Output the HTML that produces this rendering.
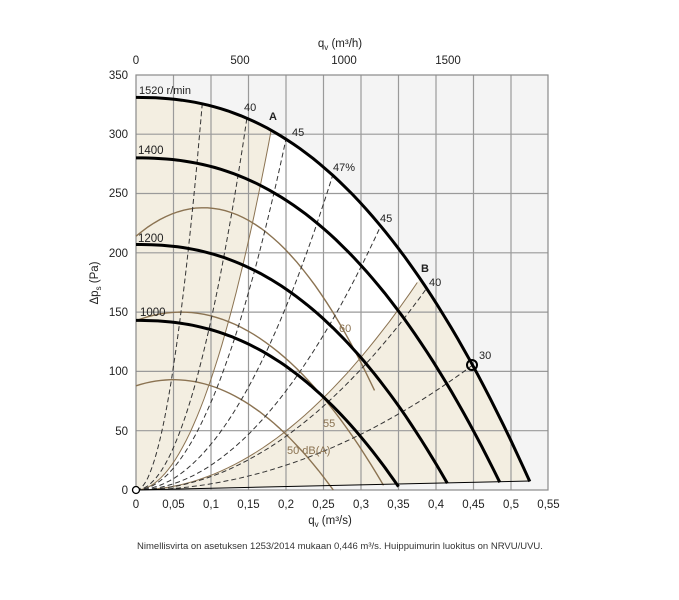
<!DOCTYPE html>
<html><head><meta charset="utf-8"><style>
body{margin:0;background:#fff;width:679px;height:600px;overflow:hidden}
svg{display:block}
text{font-family:"Liberation Sans",sans-serif;}
</style></head><body>
<svg id="s" width="679" height="600" viewBox="0 0 679 600">
<defs><clipPath id="env"><path id="envp" d=""/></clipPath></defs>
<rect x="136" y="75" width="412" height="415" fill="#f4f4f4"/>
<path id="envfill" fill="#fff" d=""/>
<g clip-path="url(#env)">
<path id="shA" fill="#f3eee1" d=""/>
<path id="shB" fill="#f3eee1" d=""/>
</g>
<g id="grid" stroke="#9a9a9a" stroke-width="1.2"></g>
<rect x="136" y="75" width="412" height="415" fill="none" stroke="#8a8a8a" stroke-width="1.2"/>
<g id="brown" fill="none" stroke="#8b7352" stroke-width="1.4"></g>
<g clip-path="url(#env)"><g id="brown2" fill="none" stroke="#8b7352" stroke-width="1"></g>
<g id="dash" fill="none" stroke="#333" stroke-width="1" stroke-dasharray="5,3"></g></g>
<path d="M136,490 L530,481" stroke="#000" stroke-width="1"/>
<g id="fan" fill="none" stroke="#000" stroke-width="3"></g>
<circle cx="472" cy="365" r="5" fill="none" stroke="#000" stroke-width="2"/>
<circle cx="136" cy="490" r="3.5" fill="#fff" stroke="#000" stroke-width="1.3"/>
<g font-size="11.5" fill="#222">
<text x="136" y="64" text-anchor="middle">0</text>
<text x="240" y="64" text-anchor="middle">500</text>
<text x="344" y="64" text-anchor="middle">1000</text>
<text x="448" y="64" text-anchor="middle">1500</text>
<text x="340" y="47" text-anchor="middle">q<tspan font-size="8" dy="3">v</tspan><tspan dy="-3"> (m³/h)</tspan></text>
<g text-anchor="end">
<text x="128" y="79">350</text><text x="128" y="138">300</text><text x="128" y="197">250</text><text x="128" y="257">200</text><text x="128" y="316">150</text><text x="128" y="375">100</text><text x="128" y="435">50</text><text x="128" y="494">0</text>
</g>
<g id="xt" text-anchor="middle"></g>
<text x="330" y="524" text-anchor="middle">q<tspan font-size="8" dy="3">v</tspan><tspan dy="-3"> (m³/s)</tspan></text>
<text transform="translate(98,283) rotate(-90)" text-anchor="middle">Δp<tspan font-size="8" dy="3">s</tspan><tspan dy="-3"> (Pa)</tspan></text>
<text x="139" y="94" font-size="11">1520 r/min</text>
<text x="138" y="154">1400</text>
<text x="138" y="242">1200</text>
<text x="140" y="316">1000</text>
<text x="244" y="111" font-size="11">40</text>
<text x="269" y="120" font-size="11" font-weight="bold">A</text>
<text x="292" y="136" font-size="11">45</text>
<text x="333" y="171" font-size="11">47%</text>
<text x="380" y="222" font-size="11">45</text>
<text x="421" y="272" font-size="11" font-weight="bold">B</text>
<text x="429" y="286" font-size="11">40</text>
<text x="479" y="359" font-size="11">30</text>
<g fill="#8b7352" font-size="11"><text x="339" y="332">60</text><text x="323" y="427">55</text><text x="287" y="454">50 dB(A)</text></g>
<text x="340" y="549" text-anchor="middle" font-size="9.5" fill="#333">Nimellisvirta on asetuksen 1253/2014 mukaan 0,446 m³/s. Huippuimurin luokitus on NRVU/UVU.</text>
</g>
</svg>
<script>
var X=q=>136+q*750, Y=p=>490-p*1.186;
function fan(p0,qm,qe){var s=[];for(var i=0;i<=60;i++){var q=qe*i/60;var p=p0*(1-Math.pow(q/qm,2.3));s.push([X(q),Y(p)]);}return s;}
function pts(a){return a.map((v,i)=>(i?'L':'M')+v[0].toFixed(1)+','+v[1].toFixed(1)).join(' ');}
var env=fan(331,0.53,0.525);
var ep=pts(env)+' L'+X(0.525)+','+Y(8)+' L136,490 Z';
document.getElementById('envp').setAttribute('d',ep);
document.getElementById('envfill').setAttribute('d',ep);
function par(c,qe){var s=[];for(var i=0;i<=40;i++){var q=qe*i/40;s.push([X(q),Y(c*q*q)]);}return s;}
var A=par(9340,Math.sqrt(340/9340));
document.getElementById('shA').setAttribute('d',pts(A)+' L136,'+Y(340)+' Z');
var B=par(1244,Math.sqrt(340/1244));
document.getElementById('shB').setAttribute('d',pts(B)+' L560,'+Y(340)+' L560,492 L136,492 Z');
var g=document.getElementById('grid'),h='';
for(var i=1;i<11;i++){var x=X(i*0.05);h+='<line x1="'+x+'" y1="75" x2="'+x+'" y2="490"/>';}
for(var j=1;j<7;j++){var y=Y(j*50);h+='<line x1="136" y1="'+y+'" x2="548" y2="'+y+'"/>';}
g.innerHTML=h;
var xt='',lab=['0','0,05','0,1','0,15','0,2','0,25','0,3','0,35','0,4','0,45','0,5','0,55'];
for(var i=0;i<12;i++)xt+='<text x="'+X(i*0.05)+'" y="508">'+lab[i]+'</text>';
document.getElementById('xt').innerHTML=xt;
var f='';
f+='<path d="'+pts(env)+'"/>';
f+='<path d="'+pts(fan(280,0.49,0.485))+'"/>';
f+='<path d="'+pts(fan(207,0.42,0.415))+'"/>';
f+='<path d="'+pts(fan(143,0.353,0.35))+'"/>';
document.getElementById('fan').innerHTML=f;
function sp(pm,qc,k,qe){var s=[];for(var i=0;i<=40;i++){var q=qe*i/40;s.push([X(q),Y(pm-k*(q-qc)*(q-qc))]);}return s;}
var b='<path d="'+pts(sp(238,0.09,2963,0.318))+'"/>';
b+='<path d="'+pts(sp(150,0.06,2003,0.33))+'"/>';
b+='<path d="'+pts(sp(93,0.05,2050,0.263))+'"/>';
document.getElementById('brown').innerHTML=b;
document.getElementById('brown2').innerHTML='<path d="'+pts(A)+'"/><path d="'+pts(par(1244,Math.sqrt(175/1244)))+'"/>';
var d='';[[41700,340],[14330,340],[7400,340],[3860,340],[2090,300],[1132,200],[523,110]].forEach(function(c){d+='<path d="'+pts(par(c[0],Math.sqrt(c[1]/c[0])))+'"/>';});
document.getElementById('dash').innerHTML=d;
</script>
</body></html>
